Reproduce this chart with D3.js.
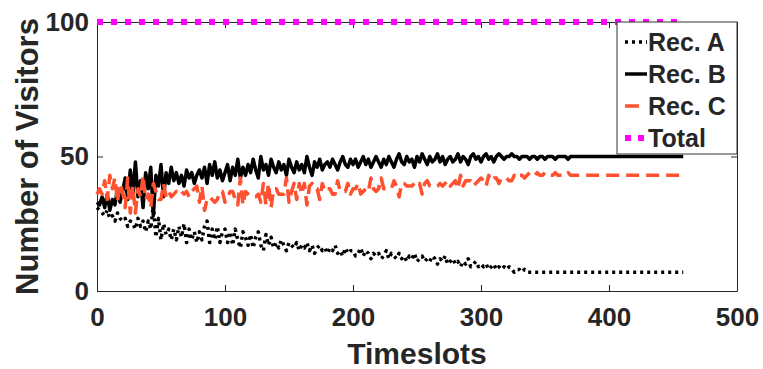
<!DOCTYPE html>
<html>
<head>
<meta charset="utf-8">
<script src="https://cdn.jsdelivr.net/npm/d3@7"></script>
<style>
  body { margin: 0; background: #fff; }
  text { font-family: "Liberation Sans", Arial, Helvetica, sans-serif; font-weight: bold; fill: #262626; }
</style>
</head>
<body>
<div id="chart"></div>
<script>
// timeslots sampled every 2 slots, 0..458
const timeslots = d3.range(0, 460, 2);

const recA = [
  31, 30, 29, 28, 30, 27, 28, 26, 29, 27,
  26, 27, 24, 26, 25, 23, 27, 24, 26, 22,
  26, 23, 32, 20, 27, 19, 25, 21, 23, 19,
  23, 19, 24, 20, 25, 18, 23, 19, 22, 18,
  22, 19, 24, 26, 18, 23, 19, 24, 18, 22,
  23, 18, 22, 17, 23, 19, 16, 22, 20, 17,
  21, 16, 20, 22, 17, 15, 21, 17, 20, 16,
  18, 16, 19, 17, 15, 18, 17, 16, 18, 15,
  17, 16, 18, 15, 17, 14, 16, 17, 15, 16,
  14, 16, 15, 17, 14, 15, 13, 16, 14, 15,
  15, 13, 14, 16, 13, 15, 14, 12, 14, 13,
  14, 12, 13, 15, 12, 14, 13, 12, 14, 12,
  13, 11, 13, 12, 14, 11, 12, 13, 11, 12,
  11, 13, 12, 10, 12, 11, 13, 10, 11, 12,
  10, 11, 9, 11, 10, 12, 9, 10, 11, 9,
  10, 9, 10, 8, 9, 10, 8, 9, 8, 9,
  8, 9, 8, 7, 8, 8, 7, 8, 7, 7,
  7, 7, 7, 7, 7, 7, 7, 7, 7, 7,
  7, 7, 7, 7, 7, 7, 7, 7, 7, 7,
  7, 7, 7, 7, 7, 7, 7, 7, 7, 7,
  7, 7, 7, 7, 7, 7, 7, 7, 7, 7,
  7, 7, 7, 7, 7, 7, 7, 7, 7, 7,
  7, 7, 7, 7, 7, 7, 7, 7, 7, 7
];

const recB = [
  33, 32, 35, 31, 36, 30, 34, 32, 38, 33,
  37, 42, 34, 45, 36, 48, 35, 41, 31, 44,
  38, 46, 28, 43, 39, 47, 35, 44, 40, 46,
  41, 44, 40, 43, 39, 45, 42, 44, 40, 43,
  45, 42, 46, 40, 47, 43, 48, 42, 45, 41,
  44, 47, 41, 46, 43, 49, 42, 46, 43, 47,
  44, 49, 45, 42, 50, 45, 47, 43, 49, 46,
  44, 48, 45, 47, 43, 49, 46, 44, 48, 45,
  47, 44, 50, 46, 43, 48, 46, 49, 45, 47,
  48, 46, 49, 47, 45, 48, 50, 47, 46, 49,
  47, 49, 46, 48, 50, 47, 49, 46, 48, 50,
  48, 46, 49, 47, 50, 48, 46, 49, 51, 48,
  47, 50, 48, 49, 46, 50, 48, 51, 49, 47,
  50, 48, 49, 51, 48, 50, 47, 49, 50, 48,
  49, 51, 48, 50, 49, 47, 50, 51, 49, 50,
  48, 50, 51, 49, 50, 48, 50, 51, 50, 49,
  50, 50, 51, 50, 50, 49, 50, 50, 50, 49,
  50, 50, 49, 50, 50, 49, 50, 50, 50, 49,
  50, 50, 50, 50, 49, 50, 50, 50, 50, 50,
  50, 50, 50, 50, 50, 50, 50, 50, 50, 50,
  50, 50, 50, 50, 50, 50, 50, 50, 50, 50,
  50, 50, 50, 50, 50, 50, 50, 50, 50, 50,
  50, 50, 50, 50, 50, 50, 50, 50, 50, 50
];

const recC = [
  36, 38, 36, 41, 34, 43, 38, 42, 33, 40,
  37, 31, 42, 29, 39, 29, 38, 35, 43, 34,
  36, 31, 40, 37, 34, 34, 40, 35, 37, 35,
  36, 37, 36, 37, 36, 37, 35, 37, 38, 39,
  33, 39, 30, 34, 35, 34, 33, 34, 37, 37,
  33, 35, 37, 37, 34, 32, 42, 32, 37, 36,
  35, 35, 35, 36, 33, 40, 32, 40, 31, 38,
  38, 36, 36, 36, 42, 33, 37, 40, 34, 40,
  36, 40, 32, 39, 40, 38, 38, 34, 40, 37,
  38, 38, 36, 36, 41, 37, 37, 37, 40, 36,
  38, 38, 40, 36, 37, 38, 37, 42, 38, 37,
  38, 42, 38, 38, 38, 38, 41, 39, 35, 40,
  40, 39, 39, 39, 40, 39, 40, 36, 40, 41,
  39, 39, 39, 39, 40, 39, 40, 41, 39, 40,
  41, 38, 43, 39, 41, 41, 41, 39, 40, 41,
  42, 41, 39, 43, 41, 42, 42, 40, 42, 42,
  42, 41, 41, 43, 42, 43, 43, 42, 43, 44,
  43, 43, 44, 43, 43, 44, 43, 43, 43, 44,
  43, 43, 43, 43, 44, 43, 43, 43, 43, 43,
  43, 43, 43, 43, 43, 43, 43, 43, 43, 43,
  43, 43, 43, 43, 43, 43, 43, 43, 43, 43,
  43, 43, 43, 43, 43, 43, 43, 43, 43, 43,
  43, 43, 43, 43, 43, 43, 43, 43, 43, 43
];

// total stays at 100 over the whole run
const totalTimes = [0, 458];
const totalValues = [100, 100];

const xTicks = [0, 100, 200, 300, 400, 500];
const yTicks = [0, 50, 100];

const margin = { top: 22, right: 26, bottom: 78, left: 97 },
  width = 763 - margin.left - margin.right,
  height = 369 - margin.top - margin.bottom;

const svg = d3.select("#chart")
  .append("svg")
  .attr("width", width + margin.left + margin.right)
  .attr("height", height + margin.top + margin.bottom)
  .append("g")
  .attr("transform", `translate(${margin.left},${margin.top})`);

const x = d3.scaleLinear().domain([0, 500]).range([0, width]);
const y = d3.scaleLinear().domain([0, 100]).range([height, 0]);

const axisColor = "#262626";

function styleAxis(g) {
  g.select(".domain").attr("stroke", axisColor);
  g.selectAll(".tick line").attr("stroke", axisColor);
  g.selectAll("text").style("font-size", "26px").attr("fill", axisColor);
}

// bottom / left axes with labels, ticks pointing in
svg.append("g")
  .attr("transform", `translate(0,${height})`)
  .call(d3.axisBottom(x).tickValues(xTicks).tickSizeInner(-6).tickSizeOuter(0).tickPadding(17))
  .call(styleAxis);

svg.append("g")
  .call(d3.axisLeft(y).tickValues(yTicks).tickSizeInner(-6).tickSizeOuter(0).tickPadding(8))
  .call(styleAxis);

// top / right box with mirrored ticks
svg.append("g")
  .call(d3.axisTop(x).tickValues(xTicks).tickSizeInner(-6).tickSizeOuter(0).tickFormat(""))
  .call(styleAxis);

svg.append("g")
  .attr("transform", `translate(${width},0)`)
  .call(d3.axisRight(y).tickValues(yTicks).tickSizeInner(-6).tickSizeOuter(0).tickFormat(""))
  .call(styleAxis);

const series = [
  { name: "Rec. A", values: recA, color: "#000", width: 3.5, dash: "3,4", keyDash: "3,4" },
  { name: "Rec. B", values: recB, color: "#000", width: 3.5, dash: null, keyDash: null },
  { name: "Rec. C", values: recC, color: "#ff5030", width: 3.5, dash: "13,7", keyDash: "14,20" }
];

const line = d3.line()
  .x((d, i) => x(timeslots[i]))
  .y(d => y(d));

series.forEach(s => {
  svg.append("path")
    .datum(s.values)
    .attr("fill", "none")
    .attr("stroke", s.color)
    .attr("stroke-width", s.width)
    .attr("stroke-linejoin", "round")
    .attr("stroke-dasharray", s.dash)
    .attr("d", line);
});

const totalLine = d3.line()
  .x((d, i) => x(totalTimes[i]))
  .y(d => y(d));

svg.append("path")
  .datum(totalValues)
  .attr("fill", "none")
  .attr("stroke", "#ff00ff")
  .attr("stroke-width", 6)
  .attr("stroke-dasharray", "6,8")
  .attr("d", totalLine);

// Legend
const legendItems = [
  ...series,
  { name: "Total", color: "#ff00ff", width: 6, keyDash: "6,7" }
];

const legend = svg.append("g")
  .attr("transform", `translate(${width - 120},0)`);

legend.append("rect")
  .attr("width", 120)
  .attr("height", 132)
  .attr("fill", "#fff")
  .attr("stroke", "#333")
  .attr("stroke-width", 1);

const entry = legend.selectAll(".entry")
  .data(legendItems)
  .join("g")
  .attr("transform", (d, i) => `translate(0, ${20 + i * 32})`);

entry.append("line")
  .attr("x1", 8)
  .attr("x2", 30)
  .attr("stroke", d => d.color)
  .attr("stroke-width", d => d.width)
  .attr("stroke-dasharray", d => d.keyDash);

entry.append("text")
  .attr("x", 31)
  .attr("y", 9)
  .style("font-size", "25px")
  .text(d => d.name);

// Label sumbu Y
svg.append("text")
  .attr("text-anchor", "middle")
  .attr("transform", `translate(${38 - margin.left},${height / 2})rotate(-90)`)
  .style("font-size", "31px")
  .text("Number of Visitors");

// Label sumbu X
svg.append("text")
  .attr("text-anchor", "middle")
  .attr("x", width / 2)
  .attr("y", height + 73)
  .style("font-size", "30px")
  .text("Timeslots");
</script>
</body>
</html>
